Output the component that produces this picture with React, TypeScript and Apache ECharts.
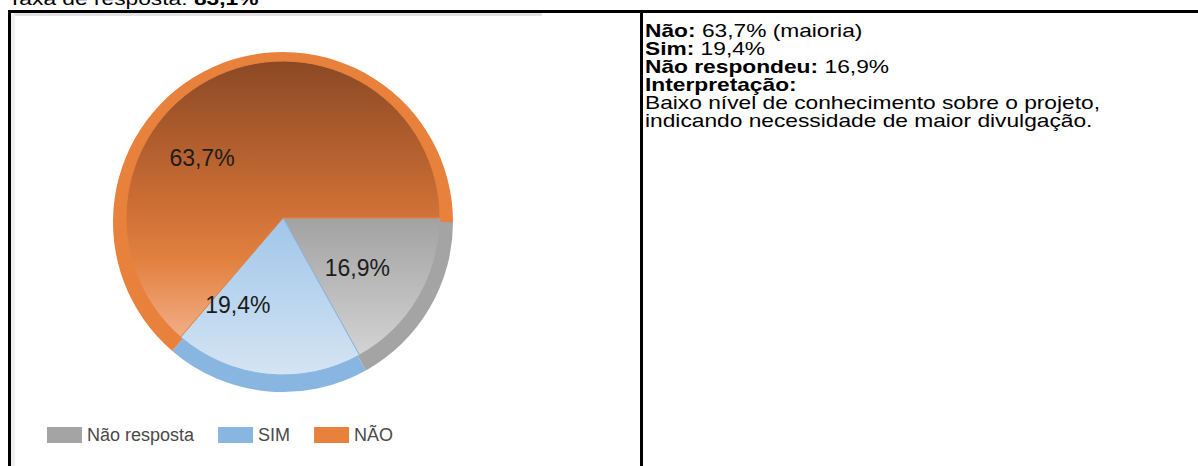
import React, { useEffect, useRef } from "react";
import * as echarts from "echarts";

// ---- data ----
const categories = ["Não resposta", "SIM", "NÃO"];
const values = [16.9, 19.4, 63.7];
const summaryNames = ["Não respondeu", "Sim", "Não"];
const summaryOrder = [2, 1, 0];
const responseRate = 83.1;
const interpretationTitle = "Interpretação:";
const interpretationLines = [
  "Baixo nível de conhecimento sobre o projeto,",
  "indicando necessidade de maior divulgação.",
];

// ---- styles ----
const FONT = "'Liberation Sans', Arial, Helvetica, sans-serif";
const rimColors = ["#A4A4A4", "#89B6E0", "#E8813C"];
const innerGradients = [
  [
    [0, "#A2A2A2"],
    [1, "#D3D3D3"],
  ],
  [
    [0, "#A0C6EA"],
    [1, "#D4E4F3"],
  ],
  [
    [0, "#8A4925"],
    [0.45, "#C46932"],
    [0.72, "#E2803F"],
    [1, "#F2AE86"],
  ],
];
// label nudges (px) relative to the default inside position
const labelNudges = [
  [4, 9],
  [-37, 6],
  [-47, 14],
];

const fmt = (v: number) => v.toFixed(1).replace(".", ",") + "%";

function buildOption() {
  const maxIdx = values.indexOf(Math.max(...values));
  const bodySize = 18.5;
  const lh = 18;
  const stretch = 1.23;
  const rich = {
    b: { fontFamily: FONT, fontSize: bodySize, fontWeight: "bold", fill: "#000", lineHeight: lh },
    r: { fontFamily: FONT, fontSize: bodySize, fontWeight: "normal", fill: "#000", lineHeight: lh },
  };
  const summaryText = [
    ...summaryOrder.map(
      (i) => `{b|${summaryNames[i]}:}{r| ${fmt(values[i])}${i === maxIdx ? " (maioria)" : ""}}`
    ),
    `{b|${interpretationTitle}}`,
    ...interpretationLines.map((l) => `{r|${l}}`),
  ].join("\n");

  return {
    animation: false,
    backgroundColor: "#ffffff",
    legend: {
      data: categories,
      left: 47,
      top: 426,
      padding: 0,
      orient: "horizontal",
      icon: "rect",
      itemWidth: 35,
      itemHeight: 16,
      itemGap: 24,
      selectedMode: false,
      textStyle: { fontSize: 18, color: "#4a4a4a", fontFamily: FONT },
    },
    graphic: [
      // faint chart-image frame
      { type: "rect", shape: { x: 11, y: 13, width: 531, height: 3 }, style: { fill: "#e2e2e2" }, silent: true },
      { type: "rect", shape: { x: 11, y: 13, width: 4, height: 460 }, style: { fill: "#f0f0f0" }, silent: true },
      // table borders
      { type: "rect", shape: { x: 8, y: 10, width: 1190, height: 3 }, style: { fill: "#000" }, silent: true },
      { type: "rect", shape: { x: 8, y: 10, width: 3, height: 456 }, style: { fill: "#000" }, silent: true },
      { type: "rect", shape: { x: 640, y: 10, width: 3, height: 456 }, style: { fill: "#000" }, silent: true },
      // heading (cut off at top)
      {
        type: "text",
        x: 8,
        y: -1.5,
        scaleX: stretch,
        silent: true,
        style: {
          text: `{r|Taxa de resposta: }{b|${fmt(responseRate)}}`,
          rich,
          verticalAlign: "middle",
          align: "left",
        },
      },
      // right cell text
      {
        type: "text",
        x: 645,
        y: 21,
        scaleX: stretch,
        silent: true,
        style: {
          text: summaryText,
          rich,
          lineHeight: lh,
          verticalAlign: "top",
          align: "left",
        },
      },
    ],
    series: [
      {
        type: "pie",
        name: "rim",
        center: [283, 222],
        radius: 170,
        startAngle: 0,
        clockwise: true,
        silent: true,
        emphasis: { disabled: true },
        label: { show: false },
        labelLine: { show: false },
        z: 1,
        data: categories.map((n, i) => ({
          name: n,
          value: values[i],
          itemStyle: { color: rimColors[i], borderWidth: 0 },
        })),
      },
      {
        type: "pie",
        name: "face",
        center: [283, 218],
        radius: 157,
        startAngle: 0,
        clockwise: true,
        silent: true,
        emphasis: { disabled: true },
        z: 2,
        label: {
          show: true,
          position: "inside",
          formatter: (p: any) => fmt(p.value),
          fontSize: 23,
          color: "#1c1c1c",
          fontFamily: FONT,
        },
        labelLayout: (p: any) => ({ dx: labelNudges[p.dataIndex][0], dy: labelNudges[p.dataIndex][1] }),
        labelLine: { show: false },
        data: categories.map((n, i) => ({
          name: n,
          value: values[i],
          itemStyle: {
            color: new echarts.graphic.LinearGradient(
              0,
              0,
              0,
              1,
              innerGradients[i].map(([o, c]) => ({ offset: o as number, color: c as string }))
            ),
            borderColor: rimColors[i],
            borderWidth: 1,
          },
        })),
      },
    ],
  };
}

export default function App() {
  const ref = useRef<HTMLDivElement>(null);
  useEffect(() => {
    if (!ref.current) return;
    const chart = echarts.init(ref.current, null, { renderer: "svg" });
    chart.setOption(buildOption() as any);
    return () => chart.dispose();
  }, []);
  return (
    <div
      ref={ref}
      style={{ position: "fixed", left: 0, top: 0, width: 1198, height: 466, background: "#fff" }}
    />
  );
}
